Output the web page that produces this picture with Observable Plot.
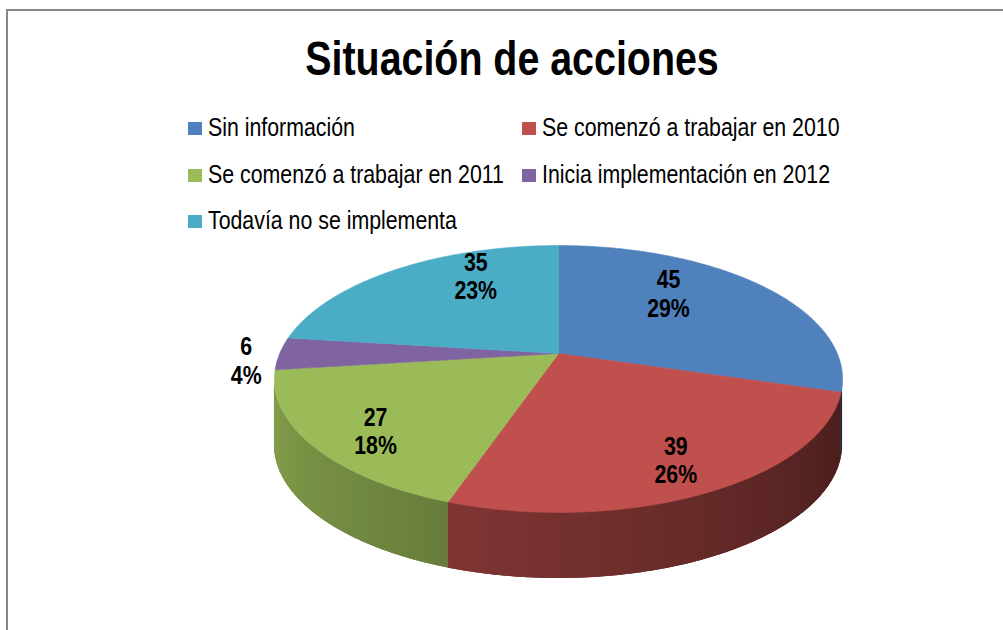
<!DOCTYPE html>
<html><head><meta charset="utf-8">
<script src="https://cdn.jsdelivr.net/npm/d3@7"></script>
<script src="https://cdn.jsdelivr.net/npm/@observablehq/plot@0.6"></script>
<style>
html,body{margin:0;padding:0;background:#fff;overflow:hidden}
#page{position:relative;width:1003px;height:630px;overflow:hidden}
#frame{position:absolute;left:6px;top:9px;width:1100px;height:700px;border-left:2px solid #878787;border-top:2px solid #878787;z-index:5;pointer-events:none}
#header{position:relative;height:240px}
.t{position:absolute;white-space:nowrap;line-height:1;color:#000}
.sq{position:absolute;width:14px;height:13px}
#chart svg{display:block}
</style></head><body>
<div id="page"><div id="frame"></div><div id="header"></div><div id="chart"></div></div>
<script>
// ---- data ----
const title = "Situación de acciones";
const categories = ["Sin información","Se comenzó a trabajar en 2010","Se comenzó a trabajar en 2011","Inicia implementación en 2012","Todavía no se implementa"];
const values = [45, 39, 27, 6, 35];
const percentLabels = ["29%", "26%", "18%", "4%", "23%"];
const colors = ["#4f81bd", "#c0504d", "#9bbb59", "#8064a2", "#4bacc6"];

// ---- fonts ----
function hasFont(name){
  const c = document.createElement("canvas").getContext("2d");
  const s = "Situación de acciones 2010 WWmmii";
  c.font = "30px monospace"; const w1 = c.measureText(s).width;
  c.font = `30px '${name}', monospace`; const w2 = c.measureText(s).width;
  return Math.abs(w1 - w2) > 0.5;
}
const NARROW = hasFont("Liberation Sans Narrow");
const FONT = NARROW ? "'Liberation Sans Narrow', 'Liberation Sans', Arial, sans-serif" : "'Liberation Sans', Arial, sans-serif";
const SX = NARROW ? 1 : 0.82;

// ---- header: title + legend ----
const header = document.getElementById("header");
function addText(txt, left, baseline, size, weight, center){
  const s = document.createElement("span");
  s.className = "t"; s.textContent = txt;
  s.style.fontFamily = FONT; s.style.fontSize = size + "px"; s.style.fontWeight = weight;
  s.style.left = left + "px"; s.style.top = (baseline - 0.8465 * size) + "px";
  if (center) { s.style.transformOrigin = "center"; s.style.transform = `translateX(-50%) scaleX(${SX})`; }
  else { s.style.transformOrigin = "left"; s.style.transform = `scaleX(${SX})`; }
  header.appendChild(s);
}
addText(title, 511.5, 76, 48, "bold", true);
const legendCols = [188, 522], legendRows = [136, 183, 229];
categories.forEach((c, i) => {
  const x = legendCols[i % 2], b = legendRows[Math.floor(i / 2)];
  const sq = document.createElement("div");
  sq.className = "sq"; sq.style.background = colors[i];
  sq.style.left = x + "px"; sq.style.top = (b - 14) + "px";
  header.appendChild(sq);
  addText(c, x + 20, b, 26, "normal", false);
});

// ---- pie geometry (pie radius = 1 unit) ----
const A = 278.8, B = 128.6, K = 0.191, DEPTH = 66;
const TOP = 240, CX = 558, CY = 353, W = 1003, H = 630 - TOP;
function proj(u, v){ const d = 1 - K * v; return [u / d, (B / A) * v / d]; }
function rim(phi){ return proj(Math.sin(phi), -Math.cos(phi)); }
const arcs = d3.pie().sort(null).value(d => d)(values);
const total = d3.sum(values);
const STEP = Math.PI / 360;

const slices = arcs.map((a, i) => {
  const pts = [{x: 0, y: 0}];
  const n = Math.max(2, Math.ceil((a.endAngle - a.startAngle) / STEP));
  for (let j = 0; j <= n; j++) {
    const p = rim(a.startAngle + (a.endAngle - a.startAngle) * j / n);
    pts.push({x: p[0], y: p[1]});
  }
  pts.push({x: 0, y: 0});
  return {pts, color: colors[i]};
});

// visible side: between the horizontal extremes of the top face
const phiA = Math.acos(-K), phiB = 2 * Math.PI - Math.acos(-K);
function shade(c, phi){
  const deg = phi * 180 / Math.PI;
  const f = Math.max(0.3, Math.min(0.95, 0.67 + (deg - 199) * 0.0032));
  const r = d3.rgb(c);
  return d3.rgb(r.r * f, r.g * f, r.b * f).formatHex();
}
const sideBase = [];   // one band per slice, mid shade (underlay)
const sideData = [];   // thin overlapping strips for the gradient
let seg = 0;
arcs.forEach((a, i) => {
  const s0 = Math.max(a.startAngle, phiA), s1 = Math.min(a.endAngle, phiB);
  if (s1 <= s0) return;
  const n = Math.max(1, Math.ceil((s1 - s0) / (Math.PI / 360)));
  const midC = shade(colors[i], (s0 + s1) / 2);
  for (let j = 0; j <= n; j++) {
    const q = rim(s0 + (s1 - s0) * j / n);
    sideBase.push({x: q[0], y1: q[1], y2: q[1] + DEPTH / A, k: i, c: midC});
  }
  const w = (s1 - s0) / n;
  for (let j = 0; j < n; j++) {
    const p0 = s0 + w * j, p1 = Math.min(s1, s0 + w * (j + 1.6));
    const c = shade(colors[i], p0 + w / 2);
    for (const p of [p0, p1]) {
      const q = rim(p);
      sideData.push({x: q[0], y1: q[1], y2: q[1] + DEPTH / A, seg, c});
    }
    seg++;
  }
});

// data labels
const labels = arcs.map((a, i) => {
  const mid = (a.startAngle + a.endAngle) / 2;
  const s = Math.sin(mid), c = -Math.cos(mid);
  let x, y;
  if (values[i] / total < 0.05) { x = 1.12 * s; y = 0.025 + 0.402 * c; }
  else { x = 0.664 * s * (1 + 0.433 * c); y = 0.025 + 0.402 * c; }
  return {x, y, t: `${values[i]}\n${percentLabels[i]}`};
});

const plot = Plot.plot({
  width: W, height: H, margin: 0,
  x: {domain: [-CX / A, (W - CX) / A], range: [0, W], axis: null},
  y: {domain: [-(CY - TOP) / A, (TOP + H - CY) / A], range: [0, H], axis: null},
  color: {type: "identity"},
  marks: [
    Plot.area(sideBase, {x1: "x", y1: "y1", y2: "y2", z: "k", fill: "c"}),
    Plot.area(sideData, {x1: "x", y1: "y1", y2: "y2", z: "seg", fill: "c"}),
    ...slices.map(s => Plot.line(s.pts, {x: "x", y: "y", fill: s.color, stroke: s.color, strokeWidth: 0.6, curve: "linear"})),
    Plot.text(labels, {x: "x", y: "y", text: "t", fontSize: 26, fontWeight: "bold", fontFamily: FONT,
      lineHeight: 1.08, textAnchor: "middle", lineAnchor: "middle", fill: "#000"})
  ]
});
document.getElementById("chart").appendChild(plot);
if (SX !== 1) {
  plot.querySelectorAll("text").forEach(t => {
    const bb = t.getBBox(); const cx = bb.x + bb.width / 2;
    const tr = t.getAttribute("transform") || "";
    t.setAttribute("transform", `${tr} translate(${cx},0) scale(${SX},1) translate(${-cx},0)`);
  });
}
</script>
</body></html>
